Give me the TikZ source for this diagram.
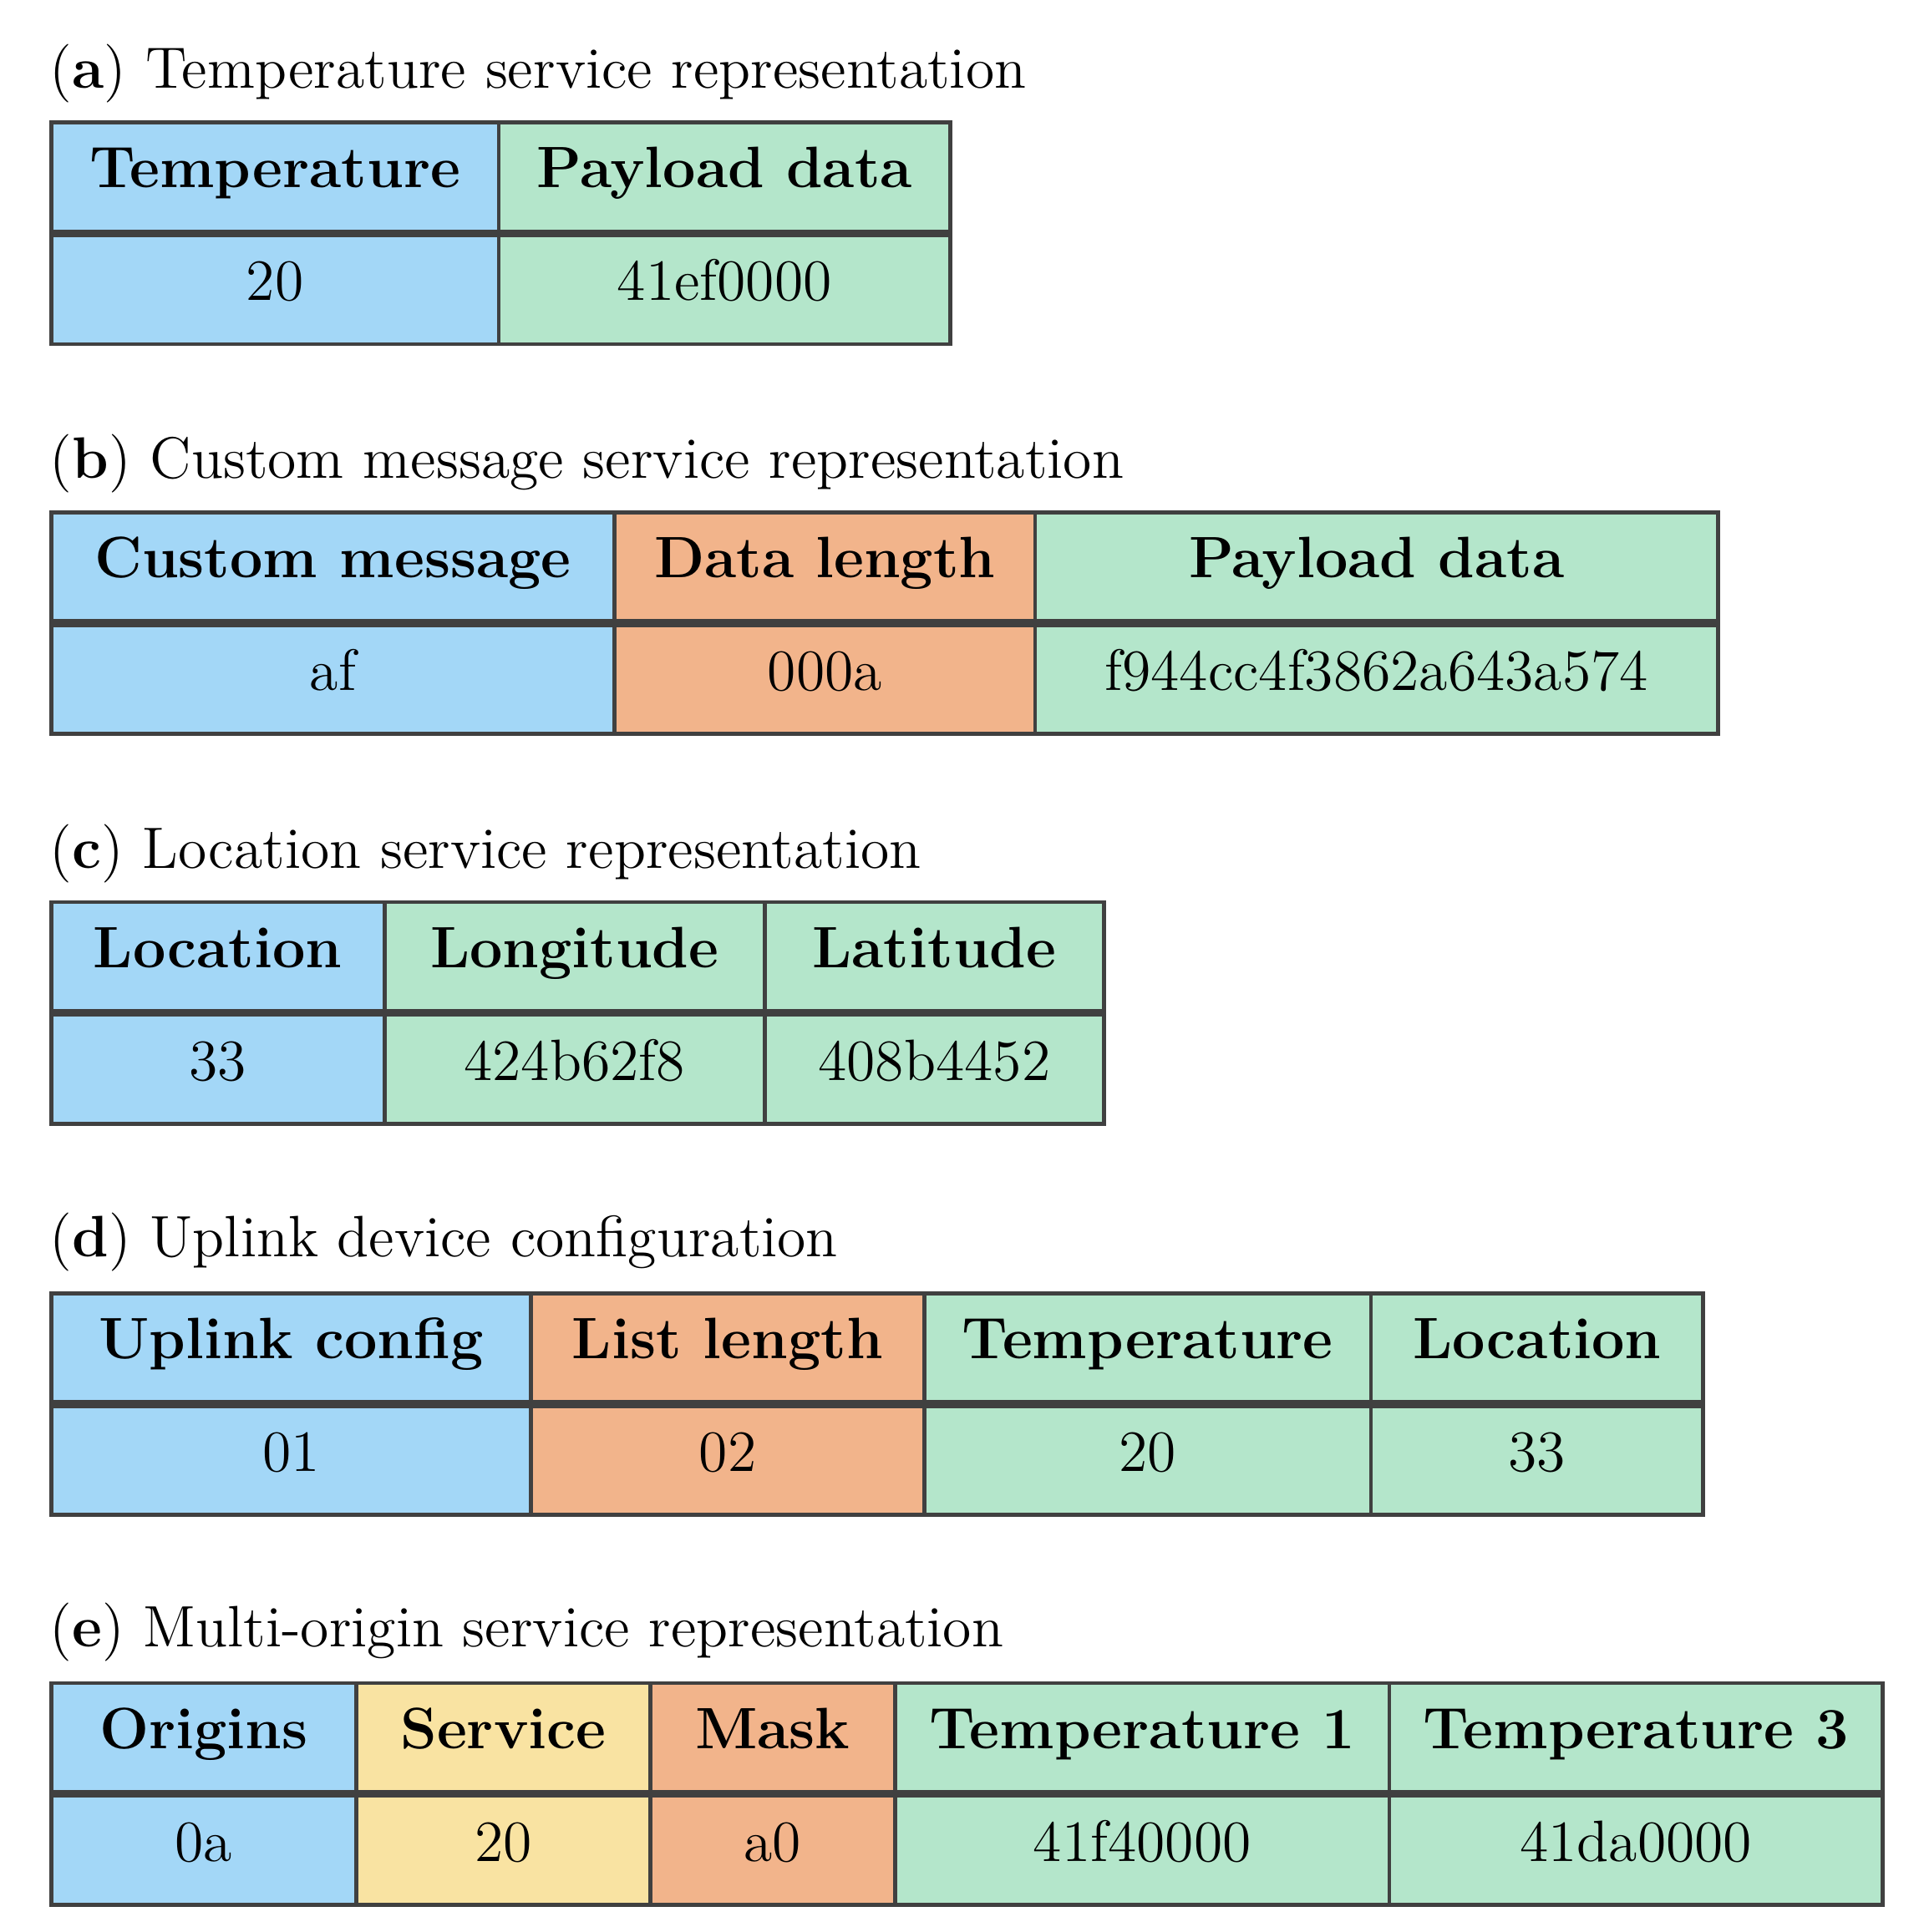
\documentclass[tikz,border=0pt]{standalone}
\usepackage{tikz}
\usetikzlibrary{positioning}
\definecolor{keyblue}{HTML}{A3D7F7}
\definecolor{datagreen}{HTML}{B4E6CB}
\definecolor{lenorange}{HTML}{F2B48B}
\definecolor{srvyellow}{HTML}{F9E3A2}
\tikzstyle{cell} = [rectangle, draw=black!75, line width=0.9pt, minimum height=0.885cm, inner sep=0pt, text centered, anchor=north west, text height=0.72em, text depth=0.22em]
\tikzstyle{caption} = [anchor=base west, inner sep=0pt]
% \field{name}{x left}{x right}{y top}{colour}{header}{value}
\newcommand{\field}[7]{%
  \pgfmathsetmacro{\fw}{(#3-#2)*0.01}
  \node (#1h) [cell, fill=#5, minimum width=\fw cm] at (#2,#4) {\bfseries #6};
  \node (#1v) [cell, fill=#5, minimum width=\fw cm, below=0pt of #1h.south west, anchor=north west] {#7};
}

\begin{document}
\begin{tikzpicture}[x=0.01cm, y=-0.01cm, font=\fontsize{13.5}{16}\selectfont]
  \useasboundingbox (0,0) rectangle (1560,1571);

  % (a)
  \node (capa) [caption] at (40,72) {(\textbf{a}) Temperature service representation};
  \field{a1}{40}{404}{98}{keyblue}{Temperature}{20}
  \field{a2}{404}{771}{98}{datagreen}{Payload data}{41ef0000}

  % (b)
  \node (capb) [caption] at (40,389) {(\textbf{b}) Custom message service representation};
  \field{b1}{40}{498}{415}{keyblue}{Custom message}{af}
  \field{b2}{498}{840}{415}{lenorange}{Data length}{000a}
  \field{b3}{840}{1395}{415}{datagreen}{Payload data}{f944cc4f3862a643a574}

  % (c)
  \node (capc) [caption] at (40,706) {(\textbf{c}) Location service representation};
  \field{c1}{40}{311}{732}{keyblue}{Location}{33}
  \field{c2}{311}{620}{732}{datagreen}{Longitude}{424b62f8}
  \field{c3}{620}{896}{732}{datagreen}{Latitude}{408b4452}

  % (d)
  \node (capd) [caption] at (40,1022) {(\textbf{d}) Uplink device configuration};
  \field{d1}{40}{430}{1050}{keyblue}{Uplink config}{01}
  \field{d2}{430}{750}{1050}{lenorange}{List length}{02}
  \field{d3}{750}{1113}{1050}{datagreen}{Temperature}{20}
  \field{d4}{1113}{1383}{1050}{datagreen}{Location}{33}

  % (e)
  \node (cape) [caption] at (40,1339) {(\textbf{e}) Multi-origin service representation};
  \field{e1}{40}{288}{1367}{keyblue}{Origins}{0a}
  \field{e2}{288}{527}{1367}{srvyellow}{Service}{20}
  \field{e3}{527}{726}{1367}{lenorange}{Mask}{a0}
  \field{e4}{726}{1128}{1367}{datagreen}{Temperature 1}{41f40000}
  \field{e5}{1128}{1529}{1367}{datagreen}{Temperature 3}{41da0000}

\end{tikzpicture}
\end{document}
